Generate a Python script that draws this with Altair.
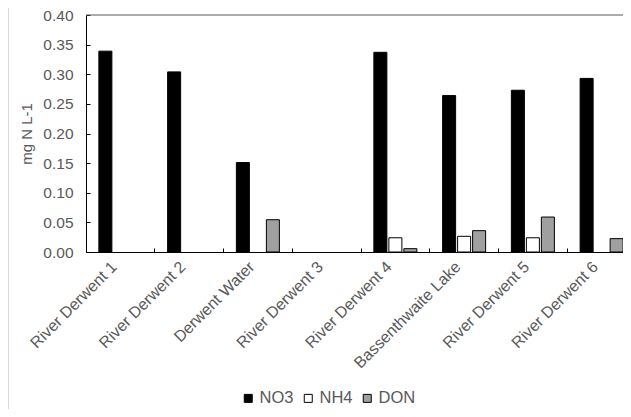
import altair as alt
import pandas as pd

sites = ["River Derwent 1", "River Derwent 2", "Derwent Water", "River Derwent 3",
         "River Derwent 4", "Bassenthwaite Lake", "River Derwent 5", "River Derwent 6"]
series = ["NO3", "NH4", "DON"]
no3 = [0.339, 0.304, 0.151, None, 0.337, 0.264, 0.273, 0.293]
nh4 = [None, None, None, None, 0.024, 0.0265, 0.024, None]
don = [None, None, 0.0545, None, 0.0056, 0.036, 0.059, 0.0225]
y_ticks = [0.0, 0.05, 0.10, 0.15, 0.20, 0.25, 0.30, 0.35, 0.40]

rows = []
for name, vals in zip(series, [no3, nh4, don]):
    for s, v in zip(sites, vals):
        if v is not None:
            rows.append({"site": s, "series": name, "value": v})
df = pd.DataFrame(rows)

W, H = 537, 237          # visible plot area (the band range runs past the right edge, as in the original)
RANGE_W = 550
FONT = "Liberation Sans"
GREY = "#595959"

xscale = alt.Scale(domain=sites, paddingInner=0, paddingOuter=0, range=[0, RANGE_W])
yscale = alt.Scale(domain=[0, 0.4], nice=False, zero=True)

bars = alt.Chart(df).mark_bar(stroke="black", strokeWidth=1).encode(
    x=alt.X("site:N", sort=sites, scale=xscale,
            axis=alt.Axis(title=None, labelAngle=-45, labelAlign="right", labelBaseline="middle",
                          labelFontSize=16, labelColor=GREY, labelFont=FONT, labelPadding=12,
                          labelOffset=-6,
                          ticks=False, tickSize=0, domainColor="black", domainWidth=1,
                          labelLimit=300)),
    xOffset=alt.XOffset("series:N", sort=series,
                        scale=alt.Scale(domain=series, paddingInner=0.133, paddingOuter=0.858)),
    y=alt.Y("value:Q", scale=yscale,
            axis=alt.Axis(title="mg N L-1", values=y_ticks, format=".2f", grid=False,
                          labelFontSize=15.5, labelColor=GREY, labelFont=FONT, labelPadding=13,
                          ticks=False, tickSize=0, domainColor="black", domainWidth=1,
                          titleFontSize=15, titleFont=FONT, titleColor=GREY,
                          titleFontWeight="normal", titlePadding=8)),
    fill=alt.Fill("series:N", sort=series,
                  scale=alt.Scale(domain=series, range=["black", "white", "#a0a0a0"]),
                  legend=alt.Legend(title=None, orient="none", direction="horizontal",
                                    legendX=154, legendY=375, symbolType="square",
                                    symbolSize=64, symbolStrokeColor="black",
                                    symbolStrokeWidth=1, labelFontSize=16.5, labelFont=FONT,
                                    labelColor=GREY, labelOffset=3, columnPadding=6)),
)

tickers = alt.Chart(df).mark_point(opacity=0).encode(
    x=alt.X("site:N", sort=sites, scale=xscale,
            axis=alt.Axis(orient="top", offset=-H, bandPosition=0, labels=False,
                          domain=False, ticks=True, tickSize=4, tickColor="black",
                          grid=False, title=None)),
    y=alt.Y("value:Q", scale=yscale,
            axis=alt.Axis(orient="right", offset=-W, values=y_ticks, labels=False,
                          domain=False, ticks=True, tickSize=4, tickColor="black",
                          grid=False, title=None)),
)

top_line = alt.Chart(pd.DataFrame({"v": [0.4]})).mark_rule(color=GREY, strokeWidth=1).encode(
    y=alt.Y("v:Q", scale=yscale, axis=None)
)

border = alt.Chart(pd.DataFrame({"v": [0]})).mark_rule(color="#d9d9d9", strokeWidth=1).encode(
    x=alt.value(-77.5), y=alt.value(-7), y2=alt.value(394)
)

chart = alt.layer(bars, tickers, top_line, border).resolve_axis(
    x="independent", y="independent"
).properties(
    width=W, height=H,
    padding={"left": 78, "top": 7, "right": 0, "bottom": 157},
    autosize=alt.AutoSizeParams(type="none"),
).configure_view(stroke=None)

chart.save("out.html", embed_options={"renderer": "svg", "actions": False})
